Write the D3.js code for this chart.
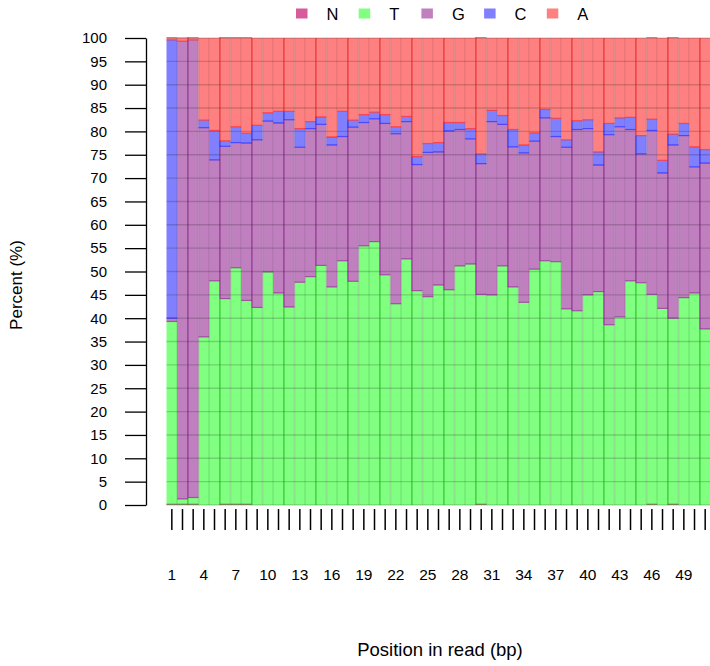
<!DOCTYPE html>
<html>
<head>
<meta charset="utf-8">
<script src="https://cdn.jsdelivr.net/npm/d3@7/dist/d3.min.js"></script>
<style>
  html, body { margin: 0; padding: 0; background: #fff; }
  svg text { font-family: "Liberation Sans", Arial, Helvetica, sans-serif; fill: #000; }
</style>
</head>
<body>
<svg id="chart" width="710" height="666"></svg>
<script>
// ---- data (percent per base at each read position) ----
const positions = d3.range(1, 52);
const bases = ["N", "T", "G", "C", "A"];
const N = [0.2,0.2,0.2,0,0,0.2,0.2,0.2,0,0,0,0,0,0,0,0,0,0,0,0,0,0,0,0,0,0,0,0,0,0.2,0,0,0,0,0,0,0,0,0,0,0,0,0,0,0,0.2,0,0.2,0,0,0];
const T = [39.1,1.1,1.4,36.0,48.0,44.0,50.6,43.6,42.3,49.9,45.4,42.4,47.7,48.9,51.3,46.7,52.3,47.9,55.5,56.4,49.3,43.1,52.7,45.9,44.6,47.1,46.1,51.2,51.6,44.9,45.0,51.2,46.7,43.4,50.5,52.3,52.1,42.0,41.6,45.0,45.7,38.6,40.3,48.0,47.6,44.9,42.1,39.8,44.4,45.4,37.7];
const G = [0.7,98.0,98.0,44.8,25.9,32.6,26.8,33.7,35.9,32.3,36.4,40.1,28.9,31.7,30.2,30.4,26.6,33.0,26.4,26.3,32.4,36.4,29.4,27.0,30.9,28.5,34.0,29.2,26.8,28.0,37.1,30.3,30.0,32.0,27.4,30.6,26.8,34.6,38.8,35.6,27.1,40.7,40.7,32.4,27.6,35.1,29.0,37.1,34.7,27.0,35.5];
const C = [59.6,0.0,0.0,1.6,6.3,1.2,3.4,2.1,3.1,1.8,2.5,1.8,4.0,1.5,1.6,1.7,5.4,1.5,1.7,1.4,1.9,1.5,1.1,1.7,1.9,2.0,1.8,1.5,2.2,2.1,2.4,1.9,3.7,1.7,1.8,1.8,3.9,1.6,1.9,1.9,2.8,2.4,1.9,2.6,3.9,2.4,2.7,2.3,2.6,4.3,2.9];
const A = [0.6,0.8,0.6,17.6,19.8,22.2,19.2,20.6,18.7,16.0,15.7,15.7,19.4,17.9,16.9,21.2,15.7,17.6,16.4,15.9,16.4,19.0,16.8,25.4,22.6,22.4,18.1,18.1,19.4,25.0,15.5,16.6,19.6,22.9,20.3,15.3,17.2,21.8,17.7,17.5,24.4,18.3,17.1,17.0,20.9,17.6,26.2,20.8,18.3,23.3,23.9];
const yTicks = d3.range(0, 101, 5);
const xLabels = positions.filter(p => (p - 1) % 3 === 0);

// ---- styles ----
const fillCol = { N: "#D65A9C", T: "#80FF80", G: "#C080C0", C: "#8080FF", A: "#FF8080" };
const strokeCol = { N: "#C71585", T: "#00C000", G: "#800080", C: "#0000FF", A: "#FF0000" };

const svg = d3.select("#chart");
const x = d3.scaleBand().domain(positions).range([166.5, 166.5 + 51 * 10.667]).padding(0);
const y = d3.scaleLinear().domain([0, 100]).range([505, 38]);

const rows = positions.map((p, i) => ({ pos: p, N: N[i], T: T[i], G: G[i], C: C[i], A: A[i] }));
const stack = d3.stack().keys(bases)(rows);

const gBars = svg.append("g");
stack.forEach(layer => {
  const key = layer.key;
  const g = gBars.append("g");
  g.selectAll("rect")
    .data(layer)
    .join("rect")
    .attr("x", d => x(d.data.pos))
    .attr("width", x.bandwidth() + 0.05)
    .attr("y", d => y(d[1]))
    .attr("height", d => Math.max(0, y(d[0]) - y(d[1])))
    .attr("fill", fillCol[key]);
});

// grid lines (faint) over the bars
const gGrid = svg.append("g");
const x0 = x.range()[0], x1 = x.range()[1];
gGrid.selectAll("line.h").data(yTicks).join("line")
  .attr("x1", x0).attr("x2", x1)
  .attr("y1", d => y(d)).attr("y2", d => y(d))
  .attr("stroke", "rgba(0,0,0,0.17)").attr("stroke-width", 1.4);
gGrid.selectAll("line.v").data(positions.slice(1)).join("line")
  .attr("x1", d => x(d)).attr("x2", d => x(d))
  .attr("y1", y(0)).attr("y2", y(100))
  .attr("stroke", "rgba(0,0,0,0.11)").attr("stroke-width", 1.6);

// segment edges: bottom edge of each segment, and stronger left edge every third bar
const gEdge = svg.append("g");
stack.forEach(layer => {
  const key = layer.key;
  const segs = layer.filter(d => d[1] - d[0] > 0.05 && d[0] > 0);
  gEdge.append("g").selectAll("line")
    .data(segs).join("line")
    .attr("x1", d => x(d.data.pos)).attr("x2", d => x(d.data.pos) + x.bandwidth())
    .attr("y1", d => y(d[0])).attr("y2", d => y(d[0]))
    .attr("stroke", strokeCol[key]).attr("stroke-opacity", 0.55).attr("stroke-width", 1.2);
  const vs = layer.filter((d, i) => i % 3 === 2 && d[1] - d[0] > 0.05);
  gEdge.append("g").selectAll("line")
    .data(vs).join("line")
    .attr("x1", d => x(d.data.pos)).attr("x2", d => x(d.data.pos))
    .attr("y1", d => y(d[0])).attr("y2", d => y(d[1]))
    .attr("stroke", strokeCol[key]).attr("stroke-opacity", 0.5).attr("stroke-width", 1.3);
});

// y axis
const yAxis = d3.axisLeft(y).tickValues(yTicks).tickSize(21).tickPadding(18).tickSizeOuter(0);
const gy = svg.append("g").attr("transform", "translate(146,0)").call(yAxis);
gy.select(".domain").attr("stroke", "#000").attr("stroke-width", 1.3);
gy.selectAll(".tick line").attr("stroke", "#000").attr("stroke-width", 1.3);
gy.selectAll(".tick text").attr("font-size", "15px").attr("font-family", "Liberation Sans, Arial, sans-serif");

// x axis: a tick per position, labels every 3rd position
const xAxis = d3.axisBottom(x).tickSize(21).tickPadding(0).tickFormat("");
const gx = svg.append("g").attr("transform", "translate(0,509)").call(xAxis);
gx.select(".domain").remove();
gx.selectAll(".tick line").attr("stroke", "#000").attr("stroke-width", 1.5);

svg.append("g").selectAll("text").data(xLabels).join("text")
  .attr("x", d => x(d) + x.bandwidth() / 2)
  .attr("y", 580)
  .attr("text-anchor", "middle")
  .attr("font-size", "15.5px")
  .text(d => d);

// axis titles
svg.append("text")
  .attr("x", 440).attr("y", 656)
  .attr("text-anchor", "middle")
  .attr("font-size", "18.5px")
  .text("Position in read (bp)");
svg.append("text")
  .attr("transform", "translate(22,285) rotate(-90)")
  .attr("text-anchor", "middle")
  .attr("font-size", "17px")
  .text("Percent (%)");

// legend
const legend = svg.append("g");
const lg = legend.selectAll("g").data(bases).join("g")
  .attr("transform", (d, i) => `translate(${296 + i * 62.7},0)`);
lg.append("rect").attr("x", 0).attr("y", 8.5).attr("width", 11.5).attr("height", 10)
  .attr("fill", d => fillCol[d]);
lg.append("text").attr("x", 30.5).attr("y", 19.5).attr("font-size", "16.5px").text(d => d);
</script>
</body>
</html>
